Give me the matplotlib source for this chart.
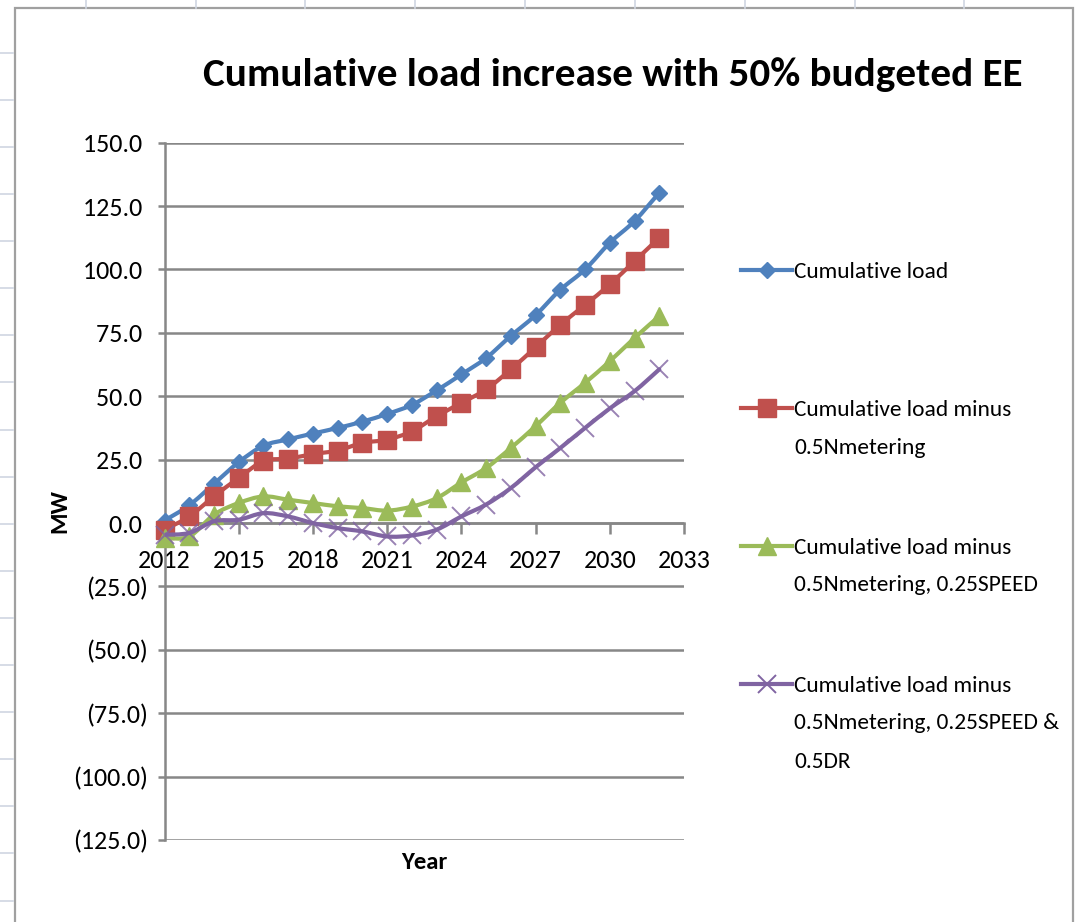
import numpy as np
import matplotlib
matplotlib.use("Agg")
import matplotlib.pyplot as plt
from matplotlib import font_manager
from matplotlib.font_manager import FontProperties
from matplotlib.lines import Line2D
from matplotlib.path import Path
from matplotlib.patches import PathPatch, Rectangle
from matplotlib.textpath import TextPath
from matplotlib.ticker import FuncFormatter

# Cumulative load (MW) by year, 2012-2032
years = [2012, 2013, 2014, 2015, 2016, 2017, 2018, 2019, 2020, 2021, 2022,
         2023, 2024, 2025, 2026, 2027, 2028, 2029, 2030, 2031, 2032]
cumulative_load = [1.0, 7.0, 15.5, 24.0, 30.5, 33.0, 35.3, 37.5, 40.0, 43.0, 46.6,
                   52.3, 58.6, 65.1, 73.8, 82.0, 92.0, 100.0, 110.5, 119.1, 130.3]
minus_nmetering = [-2.6, 2.6, 10.5, 17.8, 24.4, 25.4, 27.2, 28.6, 31.6, 32.9, 36.2,
                   42.1, 47.4, 52.7, 60.6, 69.3, 78.2, 86.0, 94.1, 103.3, 112.5]
minus_speed = [-5.9, -5.3, 3.3, 7.9, 10.5, 9.2, 7.9, 6.6, 5.9, 4.9, 6.5,
               9.8, 16.0, 21.7, 29.6, 38.2, 47.4, 55.3, 63.8, 73.0, 81.6]
minus_dr = [-4.6, -3.9, 0.7, 1.3, 3.9, 2.6, 0.0, -2.0, -3.3, -5.3, -4.9,
            -2.6, 2.6, 7.3, 13.8, 22.0, 29.6, 37.5, 45.2, 52.0, 60.6]

series_labels = [
    ["Cumulative load"],
    ["Cumulative load minus", "0.5Nmetering"],
    ["Cumulative load minus", "0.5Nmetering, 0.25SPEED"],
    ["Cumulative load minus", "0.5Nmetering, 0.25SPEED &", "0.5DR"],
]
x_ticks = [2012, 2015, 2018, 2021, 2024, 2027, 2030, 2033]
y_ticks = [-125, -100, -75, -50, -25, 0, 25, 50, 75, 100, 125, 150]
title = "Cumulative load increase with 50% budgeted EE"

# pick the narrowest Calibri-like face that is installed
installed = {f.name for f in font_manager.fontManager.ttflist}
base_font = "DejaVu Sans"
for cand in ["Carlito", "Liberation Sans Narrow", "Lato", "Liberation Sans"]:
    if cand in installed:
        base_font = cand
        break
plt.rcParams["font.family"] = [base_font, "DejaVu Sans"]


def fit_size(text, width_px, weight="normal"):
    # font size (pt) that makes `text` about width_px wide at 100 dpi
    prop = FontProperties(family=[base_font, "DejaVu Sans"], weight=weight)
    w = TextPath((0, 0), text, size=100, prop=prop).get_extents().width
    return width_px * 0.72 / (w / 100)


W, H = 1076, 922
fig = plt.figure(figsize=(W / 100, H / 100), dpi=100)


def fx(x):
    return x / W


def fy(y):
    return 1 - y / H


# worksheet grid peeking out around the chart object
sheet_color = "#cfd6e2"
for x in [86, 196, 305, 415, 525, 635, 745, 855, 964]:
    fig.add_artist(Line2D([fx(x)] * 2, [fy(0), fy(8)], color=sheet_color, lw=1.2))
for y in np.arange(52.7, 922, 47.1):
    fig.add_artist(Line2D([fx(0), fx(13)], [fy(y)] * 2, color=sheet_color, lw=1.2))
fig.add_artist(Rectangle((fx(15), fy(930)), fx(1073) - fx(15), fy(8) - fy(930),
                         fill=False, edgecolor="#a0a0a0", lw=1.6))

ax = fig.add_axes([fx(164.5), fy(840), fx(684) - fx(164.5), fy(142.7) - fy(840)])
ax.set_xlim(2012, 2033)
ax.set_ylim(-125, 150)

tick_size = min(fit_size("(125.0)", 66) * 1.08, 20)
grey = "#878787"
ax.set_yticks(y_ticks)
ax.set_xticks(x_ticks)
ax.yaxis.grid(True, color=grey, lw=1.8)
ax.set_axisbelow(True)
for side in ["top", "right"]:
    ax.spines[side].set_visible(False)
ax.spines["left"].set_color(grey)
ax.spines["left"].set_linewidth(1.8)
ax.spines["bottom"].set_position(("data", 0))
ax.spines["bottom"].set_color(grey)
ax.spines["bottom"].set_linewidth(1.8)
ax.tick_params(axis="y", direction="out", length=5, width=1.8, color=grey,
               labelsize=tick_size, pad=7)
ax.tick_params(axis="x", direction="out", length=8, width=1.8, color=grey,
               labelsize=tick_size, pad=11)


def mw_format(v, pos):
    if v < 0:
        return "({:.1f})".format(-v)
    return "{:.1f} ".format(v)


ax.yaxis.set_major_formatter(FuncFormatter(mw_format))
ax.xaxis.set_major_formatter(FuncFormatter(lambda v, pos: "{:d}".format(int(v))))


def smooth_path(xs, ys):
    # Excel-style smoothed line: cubic Bezier through every point
    pts = np.column_stack([xs, ys]).astype(float)
    n = len(pts)
    verts = [pts[0]]
    codes = [Path.MOVETO]
    for i in range(n - 1):
        p0 = pts[max(i - 1, 0)]
        p1 = pts[i]
        p2 = pts[i + 1]
        p3 = pts[min(i + 2, n - 1)]
        verts += [p1 + (p2 - p0) / 6, p2 - (p3 - p1) / 6, p2]
        codes += [Path.CURVE4] * 3
    return Path(verts, codes)


styles = [
    dict(color="#4f81bd", marker="D", ms=8.5, mew=1),
    dict(color="#c0504d", marker="s", ms=13, mew=1),
    dict(color="#9bbb59", marker="^", ms=13, mew=1),
    dict(color="#8064a2", marker="x", ms=12.5, mew=1.4),
]
all_series = [cumulative_load, minus_nmetering, minus_speed, minus_dr]

for k, (vals, st) in enumerate(zip(all_series, styles)):
    ax.add_patch(PathPatch(smooth_path(years, vals), facecolor="none",
                           edgecolor=st["color"], lw=3.0, capstyle="round",
                           joinstyle="round", zorder=3 + 2 * k))
    ax.plot(years, vals, ls="none", marker=st["marker"], ms=st["ms"],
            mew=st["mew"], color=st["color"], mec=st["color"],
            alpha=0.8 if st["marker"] == "x" else 1, clip_on=False,
            zorder=4 + 2 * k)

# legend, one block per series
legend_size = min(fit_size("Cumulative load", 152), 20)
legend_rows = [[270], [408, 446], [546, 583], [684, 721, 760]]
for lines, rows, st in zip(series_labels, legend_rows, styles):
    y0 = rows[0]
    fig.add_artist(Line2D([fx(741), fx(792)], [fy(y0)] * 2, color=st["color"], lw=3.0))
    fig.add_artist(Line2D([fx(766.5)], [fy(y0)], ls="none", marker=st["marker"],
                          ms=st["ms"], mew=st["mew"], color=st["color"]))
    for text, y in zip(lines, rows):
        fig.text(fx(794), fy(y), text, fontsize=legend_size,
                 va="center_baseline", ha="left")

fig.text(fx(613), fy(75), title,
         fontsize=min(fit_size(title, 817, "bold"), 35),
         fontweight="bold", ha="center", va="center")
label_size = min(fit_size("Year", 42, "bold") * 1.1, 20)
fig.text(fx(424), fy(862), "Year", fontsize=label_size, fontweight="bold",
         ha="center", va="center")
fig.text(fx(60), fy(511), "MW", fontsize=label_size, fontweight="bold", rotation=90,
         ha="center", va="center")

fig.savefig("out.png", dpi=100)
